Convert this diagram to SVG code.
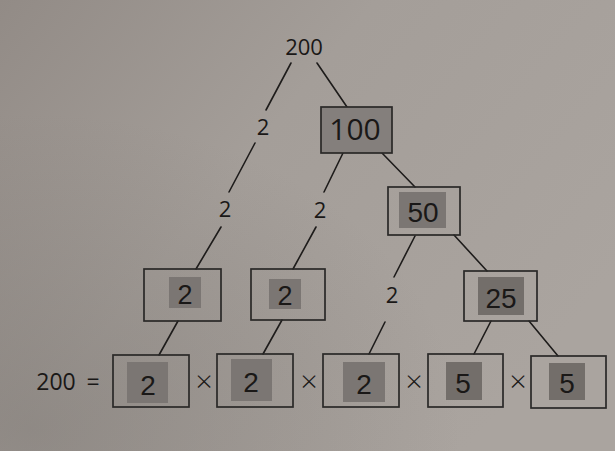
<svg xmlns="http://www.w3.org/2000/svg" width="615" height="451" viewBox="0 0 615 451">
<defs>
<linearGradient id="paper" x1="0" y1="0" x2="1" y2="0.6">
<stop offset="0" stop-color="#928b86"/>
<stop offset="0.45" stop-color="#a49e99"/>
<stop offset="1" stop-color="#aaa49f"/>
</linearGradient>
<radialGradient id="shade" cx="0.05" cy="0.95" r="0.7">
<stop offset="0" stop-color="#6f6a66" stop-opacity="0.4"/>
<stop offset="1" stop-color="#6f6a66" stop-opacity="0"/>
</radialGradient>
<style>
.ln{stroke:#1e1c1b;stroke-width:1.6;fill:none;stroke-linecap:round}
.box{fill:none;stroke:#2a2827;stroke-width:1.7}
.sq{fill:#7b7673}
.sq5{fill:#736e6a}
.t{font-family:"Open Sans","Noto Sans",sans-serif;fill:#1a1817;text-anchor:middle}
.b{font-family:"Liberation Sans",Arial,sans-serif;fill:#1a1817;text-anchor:middle}
.x{font-family:"Open Sans","Noto Sans",sans-serif;fill:#1a1817;text-anchor:middle;font-size:30px;font-weight:300}
</style>
</defs>
<rect width="615" height="451" fill="url(#paper)"/>
<rect width="615" height="451" fill="url(#shade)"/>

<g id="connectors">
<line class="ln" x1="291" y1="63" x2="266" y2="110"/>
<line class="ln" x1="255" y1="143" x2="229" y2="192"/>
<line class="ln" x1="221" y1="227" x2="196" y2="269"/>
<line class="ln" x1="178" y1="321" x2="159" y2="355"/>
<line class="ln" x1="317" y1="63" x2="347" y2="107"/>
<line class="ln" x1="343" y1="153" x2="324" y2="192"/>
<line class="ln" x1="316" y1="227" x2="293" y2="269"/>
<line class="ln" x1="282" y1="320" x2="263" y2="354"/>
<line class="ln" x1="382" y1="153" x2="415" y2="187"/>
<line class="ln" x1="415" y1="236" x2="394" y2="277"/>
<line class="ln" x1="385" y1="322" x2="369" y2="354"/>
<line class="ln" x1="454" y1="235" x2="487" y2="271"/>
<line class="ln" x1="491" y1="321" x2="474" y2="354"/>
<line class="ln" x1="529" y1="321" x2="558" y2="356"/>
</g>

<g id="n200"><text class="t" x="304" y="55" font-size="22">200</text></g>
<g id="n2a"><text class="t" x="263" y="135" font-size="22">2</text></g>
<g id="n100">
<rect x="321" y="107" width="71" height="46" fill="#847f7c" stroke="#2a2827" stroke-width="1.7"/>
<text class="t" x="355" y="140" font-size="30">100</text>
</g>
<g id="n2b"><text class="t" x="225" y="217" font-size="22">2</text></g>
<g id="n2c"><text class="t" x="320" y="218" font-size="22">2</text></g>
<g id="n50">
<rect class="box" x="388" y="187" width="72" height="48"/>
<rect class="sq" x="399" y="192" width="47" height="36"/>
<text class="b" x="423" y="222" font-size="28">50</text>
</g>
<g id="n2box1">
<rect class="box" x="144" y="269" width="77" height="52"/>
<rect class="sq" x="169" y="277" width="32" height="31"/>
<text class="b" x="185" y="304" font-size="27">2</text>
</g>
<g id="n2box2">
<rect class="box" x="251" y="269" width="74" height="51"/>
<rect class="sq" x="269" y="279" width="32" height="30"/>
<text class="b" x="285" y="305" font-size="27">2</text>
</g>
<g id="n2d"><text class="t" x="392" y="303" font-size="22">2</text></g>
<g id="n25">
<rect class="box" x="464" y="271" width="73" height="50"/>
<rect class="sq5" x="478" y="277" width="46" height="38"/>
<text class="b" x="501" y="308" font-size="28">25</text>
</g>

<g id="eq">
<text class="t" x="56" y="390" font-size="23">200</text>
<text class="t" x="93" y="390" font-size="23">=</text>
</g>
<g id="f1">
<rect class="box" x="113" y="355" width="76" height="52"/>
<rect class="sq" x="127" y="362" width="41" height="41"/>
<text class="b" x="148" y="395" font-size="28">2</text>
</g>
<g id="x1"><text class="x" x="204" y="392">×</text></g>
<g id="f2">
<rect class="box" x="217" y="354" width="76" height="53"/>
<rect class="sq" x="231" y="359" width="41" height="42"/>
<text class="b" x="251" y="392" font-size="28">2</text>
</g>
<g id="x2"><text class="x" x="309" y="392">×</text></g>
<g id="f3">
<rect class="box" x="323" y="354" width="76" height="53"/>
<rect class="sq" x="343" y="362" width="42" height="40"/>
<text class="b" x="364" y="394" font-size="28">2</text>
</g>
<g id="x3"><text class="x" x="414" y="392">×</text></g>
<g id="f4">
<rect class="box" x="428" y="354" width="75" height="53"/>
<rect class="sq5" x="446" y="362" width="36" height="38"/>
<text class="b" x="463" y="393" font-size="28">5</text>
</g>
<g id="x4"><text class="x" x="518" y="392">×</text></g>
<g id="f5">
<rect class="box" x="531" y="356" width="75" height="52"/>
<rect class="sq5" x="549" y="363" width="36" height="37"/>
<text class="b" x="567" y="393" font-size="28">5</text>
</g>
</svg>
